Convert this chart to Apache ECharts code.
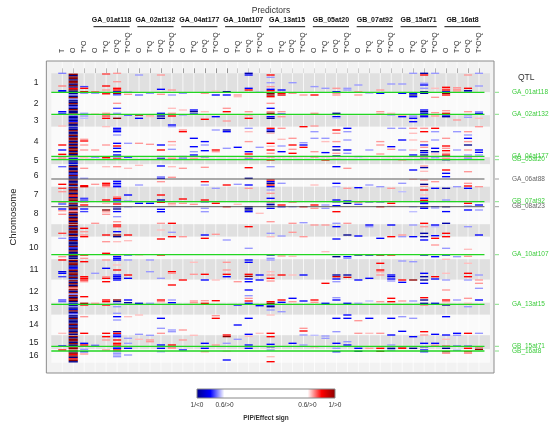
<!DOCTYPE html>
<html><head><meta charset="utf-8">
<script src="https://cdn.jsdelivr.net/npm/echarts@6/dist/echarts.min.js"></script>
<style>html,body{margin:0;padding:0;background:#fff}#c{width:550px;height:423px}</style>
</head><body><div id="c"></div>
<script>
// ---------- DATA ----------
const baseTerms = ['T', 'O', 'T*O'];
const qtlTerms = ['O', 'T*Q', 'O*Q', 'T*O*Q'];
const groupNames = ['GA_01at118', 'GA_02at132', 'GA_04at177', 'GA_10at107', 'GA_13at15', 'GB_05at20', 'GB_07at92', 'GB_15at71', 'GB_16at8'];
const chromLabels = ['1','2','3','4','5','6','7','8','9','10','11','12','13','14','15','16'];
// chromosome boundaries along the genome (marker-position units)
const chromBounds = [0, 19, 42, 53.5, 84, 91, 113.5, 129.5, 151, 163.5, 186, 206.5, 229.5, 241.5, 262, 276, 289.5];
const qtlNames = ['GA_01at118', 'GA_02at132', 'GA_04at177', 'GB_05at20', 'GA_06at88', 'GB_07at92', 'GB_08at23', 'GA_10at107', 'GA_13at15', 'GB_15at71', 'GB_16at8'];
const qtlPos = [19, 41, 83, 86.4, 105.7, 128.4, 133.4, 181.4, 231, 273, 277.7];
const legendTicks = [-1, -0.6, 0.6, 1];
const legendLabels = ['1/<0', '0.6/>0', '0.6/>0', '1/>0'];
const colorStops = [[-1, '#00008B'], [-0.8, '#0000FF'], [-0.6, '#FFFFFF'], [0.6, '#FFFFFF'], [0.8, '#FF0000'], [1, '#8B0000']];

// [position, PIP*sign]
const colT = [[0,-0.7],[12.7,0.7],[17.4,-0.8],[18.7,-0.8],[38.4,-0.8],[40,-0.75],[52.7,0.65],[71.7,0.8],[76.7,-0.8],[81,0.8],[83.3,0.8],[85.7,0.7],[93.4,-0.72],[111,0.8],[115,0.75],[118.4,0.68],[128.4,0.8],[130.7,-0.75],[135.7,-0.8],[137.4,0.68],[141,0.68],[160,0.75],[165,-0.68],[183.4,0.68],[186.7,0.8],[198.4,-0.85],[200,-0.8],[203.4,-0.75],[226.7,-0.75],[228.4,-0.72],[260,0.65],[272.7,-0.8],[276.7,0.8]];
const colTO = [[13.3,-0.75],[15,0.8],[18.4,0.85],[20,-0.68],[40,-0.68],[42.7,-0.68],[45,-0.65],[66,0.68],[67.7,0.8],[71.7,0.68],[76.7,0.68],[84.3,0.65],[95,0.68],[105,-0.68],[112.4,0.8],[113.4,0.85],[125,-0.75],[126.7,-0.75],[128.4,0.8],[131.7,0.8],[135.7,-0.8],[138.3,-0.75],[155,0.8],[158.4,0.68],[161.7,0.68],[163.4,0.8],[181.7,0.8],[185,0.68],[188.4,0.8],[203.4,0.8],[205,0.8],[206.7,0.8],[208.4,0.68],[223.4,0.8],[230,0.95],[231.7,0.8],[243.4,0.68],[260,0.8],[270,-0.8],[271.7,0.8],[276,-0.68],[278.4,-0.8],[280.7,0.68]];
// O column: marker values per chromosome (evenly spread within each chromosome)
const oByChrom = [
  [1,-1,1,1,-1,1,1,-1,1,-1,0.8,1,-1],
  [-1,-0.7,-1,1,-0.7,-1,-1,1,-1,-0.75,-1,1,-1,-1,1],
  [-0.9,-1,-0.85,-1,-0.8,1,-1,-1],
  [-0.9,-1,1,-1,-1,1,-1,1,1,-1,1,-1,1,-1,1,1,-1,1,-1,1],
  [-0.9,-1,-1,-1,-0.85],
  [-1,1,-1,-1,1,-1,-0.85,1,-1,-1,1,-1,-1,1,-1],
  [1,-1,1,1,-1,1,0.8,-1,1,1,-1],
  [1,-1,1,1,-1,0.7,1,-1,1,-1,1,1,-1,1],
  [1,-1,1,-1,1,1,-1,1],
  [-1,-0.85,1,-1,-1,-1,1,-0.85,-1,1,-1,-1,1,-1,-1],
  [1,-1,1,1,-1,-0.85,-0.8,1,-1,1,1,-1,1,-1],
  [1,-1,1,-1,1,0.7,1,-1,1,-0.7,1,-1,1,1,-1],
  [-0.85,-1,-0.7,-1,-0.85,1,-1,-0.75],
  [-1,-1,1,-1,-1,-1,1,-1,-1,1,-1,-1,1,-1],
  [1,-1,1,1,-1,1,-1,1,1],
  [1,-1,1,0.8,1,-1,0.8,1,-1]
];
// each QTL group: [O, T*Q, O*Q, T*O*Q]
const ga01at118 = [
  [[18.4,0.72],[20,-0.68],[41,0.68],[76.7,0.68],[84,-0.68],[111,0.68],[150,0.68],[200,-0.68],[230,0.68],[272,-0.72]],
  [[0.7,0.75],[12.7,0.8],[16.7,0.68],[19.4,0.8],[20.5,0.8],[40,0.68],[42.7,0.75],[45,0.8],[53.3,0.65],[71.7,0.68],[84,0.8],[86,0.8],[93.4,0.65],[110,0.8],[111.7,0.8],[113.4,0.68],[126.7,0.8],[130,0.65],[136.7,1],[138.5,0.68],[141,0.68],[161.7,0.8],[168.4,0.68],[180,0.8],[186.7,0.68],[195,-0.8],[203.4,0.68],[205,0.8],[208.4,0.8],[226.7,0.8],[228.4,0.8],[231.7,0.8],[260,0.8],[263.4,0.8],[266.7,0.68],[276.7,0.68]],
  [[0,0.68],[8.4,0.68],[15,0.8],[16.7,0.8],[18.4,-0.85],[20,0.95],[21.5,-0.75],[30,0.68],[35,-0.75],[40,-0.68],[45,1],[55,-0.8],[56.7,-0.85],[58.4,-0.8],[61.7,-0.68],[70,-0.8],[72.7,0.8],[75,-0.8],[78.4,-0.85],[81.7,-0.8],[83.3,-1],[85.7,0.8],[93.4,0.68],[108,-0.8],[110,-0.8],[111.7,-0.75],[113.4,-0.8],[123.4,0.68],[125,0.8],[126.7,-0.85],[128.4,-0.8],[130.7,0.8],[133.4,-0.8],[135.7,-1],[138.3,-0.8],[143.4,-0.68],[148.4,0.68],[151.7,0.8],[153.4,0.75],[158.4,-0.8],[161.7,1],[163.4,-1],[168.4,0.65],[181.7,0.68],[183.4,-0.8],[185,-0.8],[186.7,-0.8],[191.7,0.65],[196.7,0.8],[201.7,-0.8],[203.4,-0.8],[205,-0.85],[206.7,-0.8],[226.7,1],[228.2,-0.95],[230,-0.68],[233.4,-0.68],[240,-0.68],[243.4,-0.8],[246.7,-0.68],[258.4,-0.95],[260,0.8],[261.7,-0.8],[263.4,-0.8],[266.7,0.8],[270,0.8],[271.7,0.8],[273.4,-0.8],[275,-0.8],[276.7,0.8],[278.4,-0.68],[280,-0.68],[281.7,-0.68],[283.4,-0.68]],
  [[19,-0.72],[21,0.68],[42,-0.72],[70,-0.68],[84,-0.75],[95,0.65],[121.7,-0.8],[127.7,-0.68],[133.7,-0.65],[161.7,0.8],[167.4,0.65],[181.7,-0.75],[186.7,-0.68],[201.7,0.8],[205,-0.8],[226.7,-0.8],[229.4,-0.95],[243.4,0.65],[265,-0.68],[270,-0.68],[275,-0.8],[281.7,-0.68]]
];
const ga02at132 = [
  [[1.7,-0.68],[21.7,-0.72],[41.7,1],[45,-0.8],[70,0.68],[92,0.65],[111.7,-0.68],[130,-0.8],[181.7,0.65],[230,-0.85],[241.7,0.65],[261,-0.68],[266,0.65]],
  [[20,-0.68],[41.7,0.68],[43.2,0.65],[71,0.68],[130,-0.8],[186.7,-0.68],[198.4,-0.68],[230,-0.68],[262,-0.68],[266.7,0.68],[268.4,0.68]],
  [[1.7,0.68],[16,-0.8],[21,0.68],[40,-0.8],[42.7,-0.95],[45,-0.95],[71.7,-0.8],[76.7,0.8],[83.3,-0.8],[85.7,-0.95],[92.7,-0.8],[103.4,-0.68],[105,-0.8],[108.4,0.68],[121.7,0.8],[126.7,-0.95],[129,0.8],[136,-0.8],[138.4,-0.8],[150,0.68],[156.7,0.65],[165.7,0.8],[181.7,0.8],[205,-0.68],[226.7,0.8],[228.4,0.68],[245,-0.8],[255,-0.68],[260,0.68],[271.7,-0.8],[275,-0.8],[278.4,-0.68]],
  [[16.7,0.68],[21.7,-0.68],[35,0.65],[40,0.68],[42.7,0.8],[51.7,-0.8],[53.3,-0.68],[68.3,0.68],[71.7,0.65],[76,-0.68],[83.3,0.65],[85,0.68],[93.4,0.65],[104,0.68],[130,0.68],[131.5,0.65],[150,0.8],[159,-0.68],[163.4,0.8],[198.4,0.8],[200,0.68],[211.7,0.8],[226.7,-0.68],[229.4,-0.8],[256.7,-0.68],[258.4,-0.68],[271.7,0.8],[273.4,0.8],[275,0.68]]
];
const ga04at177 = [
  [[20,-0.68],[36.7,0.65],[41.7,-0.68],[56.7,0.68],[58.4,0.8],[83.3,-1],[86,-0.8],[95,0.68],[125.7,0.8],[130,0.68],[163.4,0.68],[206.7,0.8],[256.7,0.68],[266.7,0.68],[276.7,-0.8]],
  [[36.7,-0.8],[38.4,-1],[40.7,-0.8],[65,-0.8],[73.4,-0.8],[78.4,-0.68],[81.7,-0.8],[85,0.68],[131,0.68],[189,0.65],[201,0.68],[227.7,0.68],[229.4,0.68],[262,0.65]],
  [[20,0.68],[38.4,0.65],[46,0.8],[68.3,-0.8],[71.7,-0.68],[77.4,-0.8],[83.3,-1],[86,0.65],[94,0.68],[108.4,0.8],[111.7,-0.68],[126.7,0.8],[128.4,-0.95],[135,-0.68],[138.4,-0.68],[161.7,-0.8],[165,0.8],[201,0.8],[206.7,-0.8],[227.4,0.68],[230,0.8],[270,-0.8],[275,-0.8],[278.4,0.68]],
  [[17.7,0.65],[21.7,-0.8],[43.4,-0.8],[56.7,-0.68],[76.7,0.8],[78.4,0.68],[115,-0.68],[130,0.8],[161,0.68],[206.7,0.65],[227.4,0.8],[242.4,0.68],[245,0.8],[271.7,0.68]]
];
const ga10at107 = [
  [[18.4,-1],[21.7,-0.8],[35,0.68],[38.4,0.8],[47.7,0.68],[56.7,-0.95],[58.4,-0.8],[75,-0.68],[111.7,0.8],[133.4,0.8],[166.7,-0.68],[189,0.68],[196.7,0.68],[201,0.8],[203.4,-0.8],[261.7,0.8],[263.3,1],[270,-0.68],[278,0.65],[286.7,-0.8]],
  [[21.7,0.68],[23.4,0.65],[74,-0.8],[111,-0.68],[131,0.65],[208.4,0.68],[231.7,-0.8],[251.7,-0.8],[266,-0.68]],
  [[0,-0.95],[1.7,-0.8],[15,-0.8],[16.7,0.8],[38.4,0.68],[41.7,0.68],[45,0.8],[55,-0.68],[58.4,0.65],[68.3,0.68],[78.4,-0.8],[80.7,0.8],[83.3,0.8],[86,-0.8],[94.4,0.8],[105,-1],[111.7,-0.8],[115,0.68],[133.4,-1],[135,-0.95],[136.7,-1],[138.4,-0.8],[153.4,0.8],[175,-0.68],[186.7,-0.8],[189,-0.8],[201,0.8],[203,1],[205.7,-0.8],[208.4,-0.8],[216.7,-0.8],[222.4,-0.68],[225,0.68],[227.7,0.8],[230,-0.8],[245,-0.8],[261,-0.8],[263,0.65],[271.7,-0.8],[275,-0.8]],
  [[19,-0.68],[74,-0.68],[86,0.65],[140,0.65],[201.7,-0.8],[206.7,-0.8],[232.4,-0.8],[260,0.65]]
];
const ga13at15 = [
  [[1.7,0.8],[4,-0.68],[9.4,-0.68],[13.3,0.68],[16,-0.8],[17.4,0.8],[20,1],[21.7,1],[23.4,0.8],[30,0.68],[35,-0.8],[38.4,0.68],[40,1],[43.4,-0.8],[45,-1],[55,0.8],[56.7,-0.8],[58.4,-1],[60,0.65],[70,0.8],[73,0.65],[76.7,0.8],[80,0.68],[83.3,0.8],[86.7,0.8],[93.4,-0.68],[106.7,0.8],[108.4,-0.8],[110,-1],[111.7,0.85],[113.4,-0.8],[116.7,-0.68],[120,0.68],[125,-0.8],[128.4,0.8],[131,-0.95],[133,-1],[135,-0.8],[148.4,0.68],[160,-0.68],[163.4,0.65],[181.7,-0.95],[185,-0.68],[186.7,-0.68],[198.4,0.65],[201.7,0.68],[205,0.8],[207.7,0.68],[228.4,0.8],[230,1],[231.7,-0.8],[233.4,-1],[236.7,-0.68],[241.7,0.65],[260,0.8],[263.4,0.8],[271,-0.8],[273.4,-1],[276.7,-0.68],[283.4,0.65],[288.4,0.8]],
  [[16.7,-0.8],[20,0.8],[21.7,0.85],[38.4,0.68],[40.7,-0.75],[43.4,0.68],[55,0.68],[66,0.65],[72.7,-0.68],[78.4,-0.8],[83.3,0.68],[110,-0.68],[131.7,0.8],[133.4,-0.8],[162.7,-0.68],[182.7,0.68],[201.7,0.8],[226.7,0.8],[229,-0.8],[238.4,-0.68]],
  [[9.4,-0.68],[20,0.68],[65,0.68],[71.7,0.8],[76,0.68],[80,0.8],[83.3,0.68],[128.4,0.8],[133.4,-0.68],[150,0.68],[159,0.68],[183,0.65],[201.7,0.65],[225,-0.8],[228.4,0.68],[270,-0.8]],
  [[21.7,0.68],[53.4,0.8],[69.4,-0.68],[71.7,-0.8],[74,0.8],[83.3,0.65],[133.4,0.8],[149.4,-0.68],[163.4,0.68],[201.7,-0.8],[227.7,-0.8],[255,0.68],[257.7,0.8],[261.7,-0.68],[271.7,-0.68]]
];
const gb05at20 = [
  [[13.3,-0.68],[21.7,0.8],[40,0.68],[52.7,0.68],[58.4,-0.68],[65,-0.68],[78.4,0.68],[83.3,0.8],[111.7,0.65],[131.7,0.8],[135,0.68],[151.7,0.68],[226.7,0.8],[229,0.68],[262,-0.65],[273.4,0.68]],
  [[15,-0.68],[65,-0.68],[68.3,0.65],[79.3,-0.8],[83.3,0.68],[86.7,0.8],[131.7,-0.68],[135,-0.68],[151.7,0.68],[178.4,0.65],[210,0.8],[230,-0.8],[262.7,-0.68],[265,-0.68]],
  [[15,0.68],[18.4,-0.8],[20,0.68],[21.7,0.68],[40,-1],[43.4,-0.8],[45,-0.65],[56.7,0.8],[60,0.68],[68.3,0.68],[73.4,-0.8],[76.7,-1],[80,0.68],[82.7,-1],[86,0.68],[93.4,-0.8],[110,-0.8],[113.4,-0.65],[126.7,-0.8],[128.4,-1],[132.4,-0.8],[138.4,0.8],[150,-0.68],[153.4,-0.8],[165.7,-0.8],[183.4,-1],[201.7,-0.95],[203.4,0.85],[205.7,-0.8],[208.4,-0.68],[224.4,-0.68],[226.7,-0.8],[245,-0.8],[258.4,-0.68],[270,-0.8],[275,-0.68],[278.4,-0.8]],
  [[15,-0.68],[16.7,-0.68],[55,-0.8],[58.4,-0.68],[66.7,-0.68],[76.7,-0.8],[80,-0.68],[95,0.68],[115,0.68],[127.7,-0.8],[130,-1],[150,0.68],[161.7,-1],[183.4,-0.8],[185,-0.68],[201.7,-0.95],[204,0.85],[230,-0.8],[241.7,-0.8],[245,-0.8],[268.4,-0.68],[271.7,-0.8]]
];
const gb07at92 = [
  [[11.7,-0.68],[18.4,0.68],[21.7,0.68],[83.3,-0.68],[114.4,-0.8],[128.4,0.8],[131,-0.75],[162.7,-0.8],[181.7,-1],[206.7,-0.8],[230,-0.68],[247.4,0.68],[260,0.68],[275,-0.8],[278,-1]],
  [[20,-0.65],[76.7,-0.68],[111.7,-0.68],[128.4,-1],[151.7,-0.8],[153.4,-0.68],[181.7,-0.95],[205,-0.8],[227.7,-0.65],[245,-0.8],[260,0.65],[275,0.68]],
  [[16.7,0.68],[20,-0.8],[38.4,0.68],[40.7,0.68],[68.3,0.68],[71.7,0.68],[80.7,0.68],[113.4,-0.68],[128.4,-1],[133.4,0.8],[165,-0.8],[181.7,1],[190,0.8],[196.7,0.8],[198.4,0.68],[201.7,0.68],[228.4,0.68],[260,0.68],[275,0.8],[278,1]],
  [[10.7,-0.68],[40,0.65],[41.7,-0.68],[55,-0.68],[73.4,-0.8],[76,0.68],[83.3,0.65],[115,0.68],[130,0.8],[133,0.65],[151.7,-0.8],[163.4,0.8],[181.7,0.8],[201.7,-0.8],[203.4,-0.85],[205.7,-0.8],[207.7,-0.68],[225,0.8],[228.4,0.8],[245,-0.8],[261.7,-0.8],[271.7,-0.68],[275,-1],[276.7,-0.68]]
];
const gb15at71 = [
  [[10.7,-0.68],[20,-0.8],[41.7,0.68],[43.4,-0.8],[55,-0.68],[66.7,-0.8],[76.7,-0.68],[86.7,0.68],[110,-0.68],[118.4,-0.65],[161.7,0.68],[163.4,-0.68],[187.7,-0.68],[206.7,0.8],[209,-0.8],[227.7,0.68],[243.4,-0.68],[258,-0.8],[273.4,1],[275,0.8]],
  [[0,-0.68],[20,-0.8],[21.7,-1],[23.4,-0.8],[41.7,-0.68],[43.4,-0.68],[45,-0.8],[48.4,-0.8],[55,0.68],[60,0.65],[66.7,0.65],[76.7,0.65],[81.7,-0.8],[83.3,0.65],[96.7,-0.8],[106,0.65],[133.4,-0.68],[138.4,-0.65],[151.7,-0.68],[163.4,-0.8],[188.4,-0.68],[206.7,1],[227.7,-0.68],[245,-0.68],[263.4,-0.8],[275,-1]],
  [[0,-0.95],[1.7,0.8],[10,-0.68],[11.7,-0.8],[15,-0.68],[18.4,-1],[20,-0.95],[36.7,-0.8],[38.4,-1],[40,-0.8],[41.7,-0.95],[43.4,-0.8],[55,0.68],[58.4,0.8],[68.3,0.68],[71.7,-0.8],[74,0.68],[77.4,-1],[79.3,-0.8],[81.7,-1],[83.3,1],[86,-0.95],[92.7,0.68],[94.3,-0.95],[98,0.65],[106.7,0.68],[111,-1],[113,0.68],[116.7,0.8],[121.7,0.65],[125,-0.8],[127,0.8],[128.6,-1],[130.2,-0.8],[133.4,-0.95],[135,-0.8],[150,0.8],[153.4,0.68],[160,-0.95],[163.4,-0.95],[166.7,-0.8],[181.7,-0.95],[200,-0.8],[203.4,-0.95],[206.7,-1],[210,-0.8],[224.4,0.8],[226.7,-1],[230,-0.95],[232,0.68],[258.4,0.8],[261.7,0.68],[270,-0.8],[273.4,-1],[276.7,-0.8],[278.4,-0.8]],
  [[0,-0.68],[15,0.65],[24,0.68],[39.4,0.68],[42.7,0.68],[55,0.8],[58.4,-0.68],[66.7,-0.68],[75,-0.8],[78.4,-0.95],[80.7,0.65],[83.3,-0.8],[86,-0.68],[108.4,0.68],[115,-0.8],[133.4,-0.8],[135,-0.65],[151.7,-0.8],[153.4,-0.65],[162.4,-0.8],[165,0.8],[171.7,0.68],[183.4,-0.8],[203.4,0.8],[205.7,-0.8],[230,-0.85],[261,-0.8],[270,-0.8],[272,0.68]]
];
const gb16at8 = [
  [[14,0.8],[15.5,0.68],[16.7,0.8],[18.4,-0.8],[20,1],[21.7,0.8],[37.4,0.68],[40,0.8],[41.7,-0.8],[43.4,-0.95],[65,0.68],[72.7,0.8],[75,0.68],[77.4,0.8],[80,0.68],[81.7,0.8],[83,-1],[85,0.68],[86.4,-0.95],[96.7,0.8],[100,-0.8],[103.4,-0.8],[115,-0.95],[126.7,-0.68],[133.4,-1],[138.3,-0.8],[150,-0.95],[160,0.8],[163.4,0.8],[175,-0.68],[181.7,-0.85],[186,0.65],[200,0.65],[206.7,-0.68],[216.7,0.68],[226.7,0.8],[228.4,0.68],[231.7,-1],[243.4,-0.8],[261.7,-0.8],[266,0.65],[273,0.8],[275,-1],[278.4,1],[280,0.68]],
  [[14.4,0.68],[16,0.68],[17.5,0.68],[19,0.68],[46.7,0.68],[58.4,-0.68],[76.7,-0.68],[83.3,-0.65],[113.4,-0.68],[183.4,-0.68],[226.7,-0.68],[260,-0.8],[262,-0.68],[273,-0.8],[277,-0.68]],
  [[1.7,0.68],[15,0.8],[17.4,-0.95],[18.9,-0.8],[38.4,0.68],[41.7,-0.68],[44,-0.68],[58.4,0.68],[61.7,-0.68],[65,-0.8],[68.3,0.68],[71.7,-1],[76.7,0.68],[81.7,-0.68],[83.3,0.8],[85,-0.68],[98.4,0.68],[110,0.68],[112.7,0.8],[115,-0.8],[130,0.8],[132.7,-0.68],[136.7,-0.8],[153.4,-0.68],[176,0.65],[183,0.68],[190,0.65],[200,0.8],[203.4,0.8],[206.7,-0.68],[225,0.68],[230,0.65],[233.4,-0.68],[260,0.8],[273,-0.8],[275,0.8],[278.4,0.8],[280,0.68]],
  [[0,-0.68],[12.7,-0.68],[38.4,-0.68],[40,-0.8],[45,0.65],[53.4,0.68],[76.7,-0.8],[79,-0.8],[81.7,-0.68],[113.4,0.68],[131.7,-0.8],[136.7,-0.68],[161.7,-0.8],[201.7,-0.68],[206.7,0.68],[210,0.68],[215,-0.68],[226.7,-0.8],[260,-0.68],[273.4,0.8],[276,1]]
];

// ---------- BUILD ----------
const FONT = 'Liberation Sans, Arial, sans-serif';
const groups = [ga01at118, ga02at132, ga04at177, ga10at107, ga13at15, gb05at20, gb07at92, gb15at71, gb16at8];
const columns = [colT, null, colTO];
groups.forEach(g => g.forEach(c => columns.push(c)));
const colLabels = baseTerms.slice();
groupNames.forEach(() => qtlTerms.forEach(t => colLabels.push(t)));
const colIdx = colLabels.map((_, i) => i);
const chromMid = chromLabels.map((_, k) => (chromBounds[k] + chromBounds[k + 1]) / 2);

const MARK_H = 1.35;
const markData = [];
columns.forEach((list, ci) => {
  if (!list) return;
  list.forEach(([u, v]) => markData.push([ci, u - MARK_H / 2, u + MARK_H / 2, v]));
});
oByChrom.forEach((vals, k) => {
  const a = chromBounds[k] + 0.3, b = chromBounds[k + 1] - 0.3;
  const step = (b - a) / vals.length;
  vals.forEach((v, i) => markData.push([1, a + i * step, a + (i + 1) * step, v]));
});

function hex2rgb(h) { return [1, 3, 5].map(i => parseInt(h.substr(i, 2), 16)); }
function colorOf(v) {
  for (let i = 0; i < colorStops.length - 1; i++) {
    const [v0, c0] = colorStops[i], [v1, c1] = colorStops[i + 1];
    if (v <= v1 || i === colorStops.length - 2) {
      const t = Math.max(0, Math.min(1, (v - v0) / (v1 - v0)));
      const a = hex2rgb(c0), b = hex2rgb(c1);
      return 'rgb(' + a.map((x, j) => Math.round(x + (b[j] - x) * t)).join(',') + ')';
    }
  }
}

const X_MIN = -1.45, X_MAX = 39.37, Y_MIN = -12.3, Y_MAX = 299.7;

const chart = echarts.init(document.getElementById('c'), null, { renderer: 'canvas' });
chart.setOption({
  animation: false,
  textStyle: { fontFamily: FONT },
  title: [
    { text: 'Predictors', left: 266, top: 1, textAlign: 'center', textStyle: { fontSize: 8.5, fontWeight: 'normal', color: '#333', fontFamily: FONT } },
    { text: 'QTL', left: 513, top: 68, textStyle: { fontSize: 8.5, fontWeight: 'normal', color: '#333', fontFamily: FONT } }
  ],
  grid: [
    { left: 38, top: 61, width: 456, height: 312, show: true, backgroundColor: '#f2f2f2', borderColor: '#8c8c8c', borderWidth: 1 },
    { left: 197, top: 389, width: 138, height: 10, show: false }
  ],
  xAxis: [
    {
      gridIndex: 0, type: 'value', min: X_MIN, max: X_MAX, position: 'top',
      axisLine: { show: false }, splitLine: { show: false },
      axisTick: { show: true, customValues: colIdx, length: 5, lineStyle: { color: '#777' } },
      axisLabel: { customValues: colIdx, rotate: 90, fontSize: 7, margin: 8, color: '#333', fontFamily: FONT,
        formatter: v => colLabels[Math.round(v)] }
    },
    {
      gridIndex: 1, type: 'value', min: -1, max: 1,
      axisLine: { show: false }, splitLine: { show: false }, axisTick: { show: false },
      axisLabel: { customValues: legendTicks, fontSize: 6.5, margin: 4, color: '#333', fontFamily: FONT,
        formatter: v => legendLabels[legendTicks.findIndex(t => Math.abs(t - v) < 1e-6)] },
      name: 'PIP/Effect sign', nameLocation: 'middle', nameGap: 17,
      nameTextStyle: { fontSize: 6.5, fontWeight: 'bold', color: '#333', fontFamily: FONT }
    }
  ],
  yAxis: [
    {
      gridIndex: 0, type: 'value', inverse: true, min: Y_MIN, max: Y_MAX,
      axisLine: { show: false }, splitLine: { show: false }, axisTick: { show: false },
      axisLabel: { customValues: chromMid, fontSize: 8.5, margin: 8, color: '#222', fontFamily: FONT,
        formatter: v => chromLabels[chromMid.findIndex(m => Math.abs(m - v) < 1e-6)] },
      name: 'Chromosome', nameLocation: 'middle', nameGap: 24,
      nameTextStyle: { fontSize: 9.5, color: '#222', fontFamily: FONT }
    },
    { gridIndex: 1, type: 'value', min: 0, max: 1, show: false }
  ],
  series: [
    { // chromosome bands
      type: 'custom', xAxisIndex: 0, yAxisIndex: 0, silent: true,
      data: chromLabels.map((_, k) => [k, chromBounds[k], chromBounds[k + 1]]),
      renderItem(params, api) {
        const k = api.value(0);
        const p0 = api.coord([-1, api.value(1)]), p1 = api.coord([39, api.value(2)]);
        return { type: 'rect', shape: { x: p0[0], y: p0[1], width: p1[0] - p0[0], height: p1[1] - p0[1] },
          style: { fill: k % 2 === 0 ? '#e0e0e0' : '#fafafa' } };
      }
    },
    { // faint column lines
      type: 'custom', xAxisIndex: 0, yAxisIndex: 0, silent: true,
      data: colIdx.map(i => [i]),
      renderItem(params, api) {
        const a = api.coord([api.value(0), Y_MIN]), b = api.coord([api.value(0), Y_MAX]);
        return { type: 'line', shape: { x1: a[0], y1: a[1] + 1, x2: b[0], y2: b[1] - 1 }, style: { stroke: 'rgba(255,255,255,0.75)', lineWidth: 1 } };
      }
    },
    { // PIP marks
      type: 'custom', xAxisIndex: 0, yAxisIndex: 0, silent: true,
      data: markData,
      renderItem(params, api) {
        const c = api.value(0), hw = c === 1 ? 0.42 : 0.37;
        const p0 = api.coord([c - hw, api.value(1)]), p1 = api.coord([c + hw, api.value(2)]);
        return { type: 'rect', shape: { x: p0[0], y: p0[1], width: p1[0] - p0[0], height: Math.max(p1[1] - p0[1], 1) },
          style: { fill: colorOf(api.value(3)) } };
      }
    },
    { // QTL lines + labels
      type: 'custom', xAxisIndex: 0, yAxisIndex: 0, silent: true, clip: false,
      data: qtlNames.map((n, i) => [qtlPos[i], i]),
      renderItem(params, api) {
        const u = api.value(0), i = api.value(1);
        const green = groupNames.indexOf(qtlNames[i]) >= 0;
        const a = api.coord([-1, u]), b = api.coord([38.5, u]);
        const R = params.coordSys.x + params.coordSys.width;
        return { type: 'group', children: [
          { type: 'line', shape: { x1: a[0], y1: a[1], x2: b[0], y2: b[1] }, style: { stroke: green ? '#22d622' : '#5a5a5a', lineWidth: green ? 1.3 : 1 } },
          { type: 'line', shape: { x1: R + 1, y1: a[1], x2: R + 5, y2: a[1] }, style: { stroke: green ? '#66d866' : '#888', lineWidth: 0.8 } },
          { type: 'text', x: R + 18, y: a[1], style: { text: qtlNames[i], fill: green ? '#3ccc3c' : '#666', fontSize: 6.5, fontFamily: FONT, verticalAlign: 'middle', align: 'left' } }
        ] };
      }
    },
    { // group headers
      type: 'custom', xAxisIndex: 0, yAxisIndex: 0, silent: true, clip: false,
      data: groupNames.map((n, g) => [baseTerms.length + qtlTerms.length * g, baseTerms.length + qtlTerms.length * g + qtlTerms.length - 1, g]),
      renderItem(params, api) {
        const x0 = api.coord([api.value(0) - 0.15, 0])[0], x1 = api.coord([api.value(1) + 0.15, 0])[0];
        return { type: 'group', children: [
          { type: 'line', shape: { x1: x0, y1: 26.7, x2: x1, y2: 26.7 }, style: { stroke: '#111', lineWidth: 1 } },
          { type: 'text', x: (x0 + x1) / 2, y: 20, style: { text: groupNames[api.value(2)], fill: '#111', fontSize: 7, fontWeight: 'bold', fontFamily: FONT, align: 'center', verticalAlign: 'middle' } }
        ] };
      }
    },
    { // legend colour bar
      type: 'custom', xAxisIndex: 1, yAxisIndex: 1, silent: true, clip: false,
      data: [[legendTicks[0], legendTicks[legendTicks.length - 1]]],
      renderItem(params, api) {
        const lo = api.value(0), hi = api.value(1);
        const p0 = api.coord([lo, 1]), p1 = api.coord([hi, 0]);
        const stops = colorStops.map(([v, c]) => ({ offset: (v - lo) / (hi - lo), color: c }));
        return { type: 'rect', shape: { x: p0[0], y: p0[1], width: p1[0] - p0[0], height: p1[1] - p0[1] },
          style: { fill: new echarts.graphic.LinearGradient(0, 0, 1, 0, stops), stroke: '#888', lineWidth: 1 } };
      }
    }
  ]
});
</script>
</body></html>
